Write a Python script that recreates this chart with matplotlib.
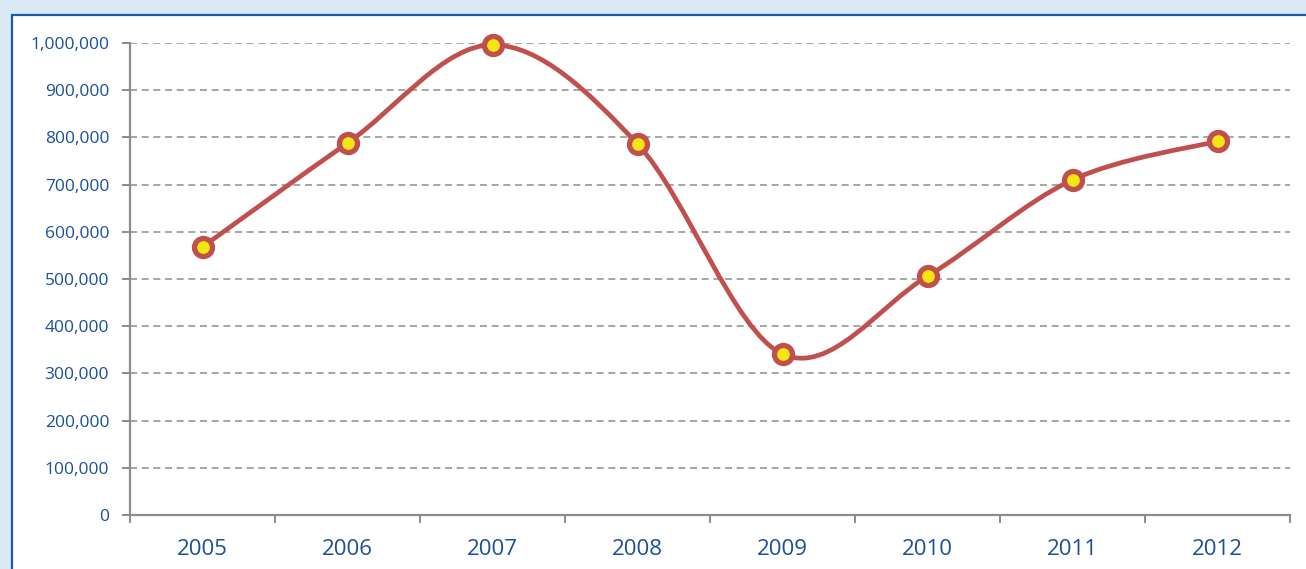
import matplotlib
matplotlib.use("Agg")
import matplotlib.pyplot as plt
from matplotlib.path import Path
from matplotlib.patches import PathPatch, Rectangle
import numpy as np

years = ["2005", "2006", "2007", "2008", "2009", "2010", "2011", "2012"]
values = [568000, 788000, 996000, 786000, 341000, 506000, 710000, 792000]
yticks = [0, 100000, 200000, 300000, 400000, 500000, 600000, 700000, 800000, 900000, 1000000]

plt.rcParams['font.family'] = ['Open Sans', 'DejaVu Sans']
W, H = 1306, 569
fig = plt.figure(figsize=(W / 100, H / 100), dpi=100)
fig.patch.set_facecolor('#d9eaf5')

# white panel with blue border (background axes)
bg = fig.add_axes([0, 0, 1, 1], zorder=-10)
bg.set_xlim(0, W)
bg.set_ylim(H, 0)
bg.axis('off')
bg.add_patch(Rectangle((12, 15), W + 50, H + 50, facecolor='white', edgecolor='#1f58a5',
                       linewidth=1.6))

ax = fig.add_axes([130 / W, 54 / H, 1160 / W, 472 / H])
ax.set_facecolor('none')

x = np.arange(len(years))
y = np.array(values, dtype=float)

# Smoothed line (Catmull-Rom style Bezier, like spreadsheet smoothing)
verts = [(x[0], y[0])]
codes = [Path.MOVETO]
n = len(x)
for i in range(n - 1):
    p0 = np.array([x[max(i - 1, 0)], y[max(i - 1, 0)]])
    p1 = np.array([x[i], y[i]])
    p2 = np.array([x[i + 1], y[i + 1]])
    p3 = np.array([x[min(i + 2, n - 1)], y[min(i + 2, n - 1)]])
    c1 = p1 + (p2 - p0) / 6
    c2 = p2 - (p3 - p1) / 6
    verts += [tuple(c1), tuple(c2), tuple(p2)]
    codes += [Path.CURVE4] * 3
ax.add_patch(PathPatch(Path(verts, codes), facecolor='none', edgecolor='#c0504d',
                       linewidth=3.4, zorder=3, capstyle='round', joinstyle='round'))
ax.plot(x, y, linestyle='none', marker='o', markersize=13, markerfacecolor='#f5e612',
        markeredgecolor='#c0504d', markeredgewidth=3.8, zorder=4, clip_on=False)

ax.set_xlim(-0.5, len(years) - 0.5)
ax.set_ylim(0, 1000000)

ax.set_yticks(yticks)
ax.set_yticklabels([f"{v:,}" for v in yticks])
ax.yaxis.grid(True, color='#a6a6a6', linestyle=(0, (3.6, 2.4)), linewidth=1.4)
ax.set_axisbelow(True)

ax.set_xticks(x)
ax.set_xticklabels(years)
ax.set_xticks(np.arange(-0.5, len(years), 1.0), minor=True)
ax.tick_params(axis='x', which='major', length=0, pad=17.5, labelsize=16, labelcolor='#1a4f9c')
ax.tick_params(axis='x', which='minor', length=6, width=1.4, color='#8c8c8c', direction='out')
ax.tick_params(axis='y', length=6, width=1.4, color='#8c8c8c', direction='out', pad=9,
               labelsize=12.5, labelcolor='#1a4f9c')

for s in ['top', 'right']:
    ax.spines[s].set_visible(False)
for s in ['left', 'bottom']:
    ax.spines[s].set_color('#8c8c8c')
    ax.spines[s].set_linewidth(1.6)

fig.savefig('out.png', dpi=100, facecolor=fig.get_facecolor())
